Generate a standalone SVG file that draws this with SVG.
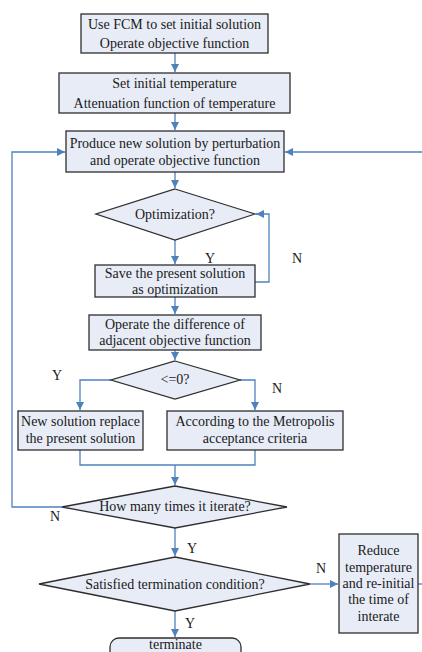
<svg xmlns="http://www.w3.org/2000/svg" width="422" height="652" viewBox="0 0 422 652">
<defs>
<style>
.n{fill:#e7ecf6;stroke:#2e2e2e;stroke-width:1.3}
.t{font-family:"Liberation Serif","Times New Roman",Times,"DejaVu Serif",serif;font-size:14px;fill:#1a1a1a;text-anchor:middle}
.l{font-family:"Liberation Serif","Times New Roman",Times,"DejaVu Serif",serif;font-size:14px;fill:#1a1a1a;text-anchor:middle}
.c{fill:none;stroke:#4f81bd;stroke-width:1.3}
</style>
<marker id="a" viewBox="0 0 10 10" refX="10" refY="5" markerWidth="8" markerHeight="8" markerUnits="userSpaceOnUse" orient="auto">
<path d="M0,0 L10,5 L0,10 z" fill="#4f81bd"/>
</marker>
</defs>
<rect width="422" height="652" fill="#ffffff"/>
<g id="connectors">
<path class="c" d="M175,53 V72" marker-end="url(#a)"/>
<path class="c" d="M175,113 V130" marker-end="url(#a)"/>
<path class="c" d="M175,172 V188" marker-end="url(#a)"/>
<path class="c" d="M175,240 V264" marker-end="url(#a)"/>
<path class="c" d="M255,282 H269 V214 H256" marker-end="url(#a)"/>
<path class="c" d="M175,297 V314" marker-end="url(#a)"/>
<path class="c" d="M175,350 V360" marker-end="url(#a)"/>
<path class="c" d="M111,380 H80 V410" marker-end="url(#a)"/>
<path class="c" d="M240,380 H255 V410" marker-end="url(#a)"/>
<path class="c" d="M80,450 V465 H255 V450"/>
<path class="c" d="M175,465 V485" marker-end="url(#a)"/>
<path class="c" d="M62,507 H12 V152 H65" marker-end="url(#a)"/>
<path class="c" d="M422,152 H285" marker-end="url(#a)"/>
<path class="c" d="M175,528 V556" marker-end="url(#a)"/>
<path class="c" d="M310,584 H338" marker-end="url(#a)"/>
<path class="c" d="M418,584 H422"/>
<path class="c" d="M175,611 V637" marker-end="url(#a)"/>
<text class="l" x="210" y="263">Y</text>
<text class="l" x="297" y="263">N</text>
<text class="l" x="57" y="380">Y</text>
<text class="l" x="277" y="393">N</text>
<text class="l" x="55" y="521">N</text>
<text class="l" x="192" y="553">Y</text>
<text class="l" x="321" y="573">N</text>
<text class="l" x="190" y="628">Y</text>
</g>
<g id="n1">
<rect class="n" x="81" y="14" width="187" height="39"/>
<text class="t" x="174.5" y="29">Use FCM to set initial solution</text>
<text class="t" x="174.5" y="48">Operate objective function</text>
</g>
<g id="n2">
<rect class="n" x="59" y="73" width="231" height="40"/>
<text class="t" x="174.5" y="88">Set initial temperature</text>
<text class="t" x="174.5" y="108">Attenuation function of temperature</text>
</g>
<g id="n3">
<rect class="n" x="66" y="131" width="218" height="41"/>
<text class="t" x="175" y="148">Produce new solution by perturbation</text>
<text class="t" x="175" y="165">and operate objective function</text>
</g>
<g id="n4">
<polygon class="n" points="175,189 255,214 175,240 96,214"/>
<text class="t" x="175" y="219">Optimization?</text>
</g>
<g id="n5">
<rect class="n" x="95" y="265" width="160" height="32"/>
<text class="t" x="175" y="278">Save the present solution</text>
<text class="t" x="175" y="294">as optimization</text>
</g>
<g id="n6">
<rect class="n" x="89" y="315" width="172" height="35"/>
<text class="t" x="175" y="329">Operate the difference of</text>
<text class="t" x="175" y="345">adjacent objective function</text>
</g>
<g id="n7">
<polygon class="n" points="175,361 240,380 175,399 111,380"/>
<text class="t" x="175" y="384">&lt;=0?</text>
</g>
<g id="n8">
<rect class="n" x="18" y="411" width="125" height="39"/>
<text class="t" x="80.5" y="426">New solution replace</text>
<text class="t" x="80.5" y="443">the present solution</text>
</g>
<g id="n9">
<rect class="n" x="167" y="411" width="176" height="39"/>
<text class="t" x="255" y="426">According to the Metropolis</text>
<text class="t" x="255" y="443">acceptance criteria</text>
</g>
<g id="n10">
<polygon class="n" points="175,486 287,507 175,528 62,507"/>
<text class="t" x="175" y="511">How many times it iterate?</text>
</g>
<g id="n11">
<polygon class="n" points="175,557 310,584 175,611 39,584"/>
<text class="t" x="175" y="589">Satisfied termination condition?</text>
</g>
<g id="n12">
<rect class="n" x="339" y="534" width="79" height="99"/>
<text class="t" x="378.5" y="555">Reduce</text>
<text class="t" x="378.5" y="572">temperature</text>
<text class="t" x="378.5" y="588">and re-initial</text>
<text class="t" x="378.5" y="604">the time of</text>
<text class="t" x="378.5" y="621">interate</text>
</g>
<g id="n13">
<rect class="n" x="110" y="638" width="131" height="24" rx="9" ry="9"/>
<text class="t" x="175.5" y="649">terminate</text>
</g>
</svg>
